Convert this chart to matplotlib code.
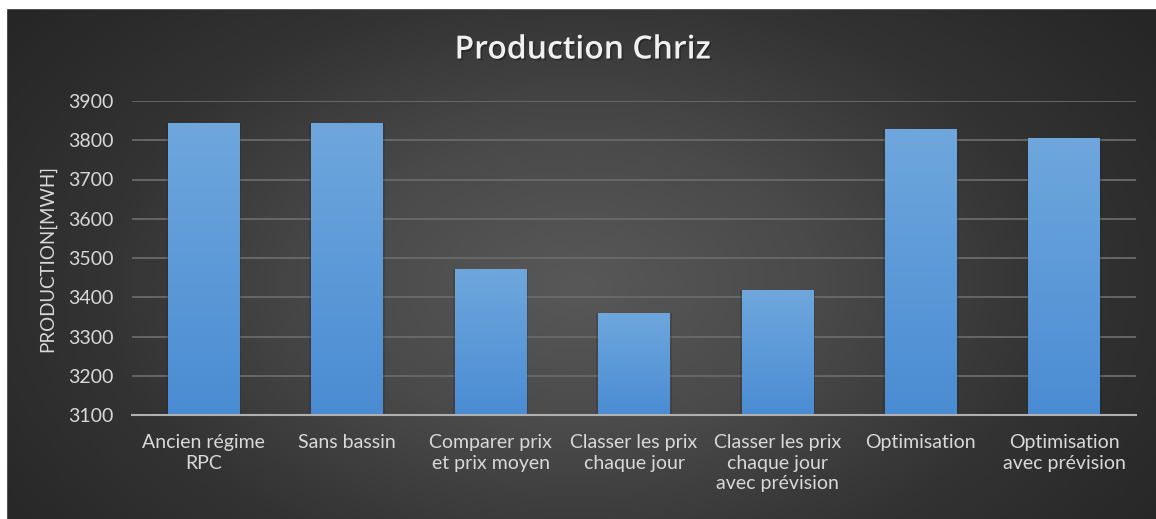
import numpy as np
import matplotlib
matplotlib.use('Agg')
import matplotlib.pyplot as plt
import matplotlib.patheffects as pe
from matplotlib.colors import LinearSegmentedColormap
from matplotlib.patches import Rectangle

categories = ['Ancien régime\nRPC', 'Sans bassin', 'Comparer prix\net prix moyen',
              'Classer les prix\nchaque jour', 'Classer les prix\nchaque jour\navec prévision',
              'Optimisation', 'Optimisation\navec prévision']
production = [3845, 3845, 3471, 3361, 3418, 3828, 3806]
yticks = [3100, 3200, 3300, 3400, 3500, 3600, 3700, 3800, 3900]

plt.rcParams['font.family'] = ['Lato', 'DejaVu Sans']

fig = plt.figure(figsize=(11.56, 5.19), dpi=100, facecolor='#262626')

# dark radial background
bg = fig.add_axes([0, 0, 1, 1])
bg.set_axis_off()
yy, xx = np.mgrid[0:1:300j, 0:1:600j]
dist = np.sqrt(((xx - 0.5) / 0.62) ** 2 + ((yy - 0.45) / 0.85) ** 2)
bgcmap = LinearSegmentedColormap.from_list('bg', ['#585858', '#4a4a4a', '#333333', '#262626'])
bg.imshow(np.clip(dist, 0, 1), cmap=bgcmap, vmin=0, vmax=1, aspect='auto',
          extent=[0, 1, 0, 1], origin='lower')
bg.set_xlim(0, 1)
bg.set_ylim(0, 1)
# white strip at top and left like the screenshot
bg.add_patch(Rectangle((0, 1 - 8 / 519), 1, 8 / 519, color='white', zorder=5))
bg.add_patch(Rectangle((0, 0), 6 / 1156, 1, color='white', zorder=5))

ax = fig.add_axes([132 / 1156, 1 - 415 / 519, (1136 - 132) / 1156, (415 - 101) / 519])
ax.patch.set_visible(False)

x = np.arange(len(categories))
bars = ax.bar(x, production, width=0.5, color='none', edgecolor='none', zorder=3)

barcmap = LinearSegmentedColormap.from_list('bar', ['#4a8cd3', '#6fa7dd'])
grad = np.linspace(0, 1, 256).reshape(-1, 1)
for b in bars:
    bx, bw, bh = b.get_x(), b.get_width(), b.get_height()
    # soft shadow
    ax.bar(bx + bw / 2, bh - 3100, width=bw + 0.025, bottom=3100, color='#1e1e1e',
           alpha=0.2, edgecolor='none', zorder=2)
    im = ax.imshow(grad, cmap=barcmap, aspect='auto', origin='lower',
                   extent=[bx, bx + bw, 3100, bh], zorder=3)
    im.set_clip_path(b)

ax.set_xlim(-0.5, len(categories) - 0.5)
ax.set_ylim(3100, 3900)
ax.set_yticks(yticks)
ax.set_xticks(x)
ax.set_xticklabels(categories, linespacing=1.25)

ax.yaxis.grid(True, color='#6a6a6a', linewidth=1.3, zorder=1)
ax.set_axisbelow(True)
for s in ['left', 'right', 'top']:
    ax.spines[s].set_visible(False)
ax.spines['bottom'].set_color('#b0b0b0')
ax.spines['bottom'].set_linewidth(1.5)
ax.spines['bottom'].set_zorder(4)

ax.tick_params(axis='both', length=0, labelsize=14, colors='#d9d9d9')
ax.tick_params(axis='y', pad=13)
ax.tick_params(axis='x', pad=14)

ax.set_ylabel('PRODUCTION[MWH]', fontsize=13.5, color='#d9d9d9', labelpad=9)

fig.text(583 / 1156, 1 - 50 / 519, 'Production Chriz', ha='center', va='center',
         fontsize=23, fontweight='semibold', color='#f0f0f0', family=['Open Sans', 'DejaVu Sans'],
         path_effects=[pe.withSimplePatchShadow(offset=(1.2, -1.2), shadow_rgbFace='black', alpha=0.3)])

fig.savefig('out.png', dpi=100, facecolor=fig.get_facecolor())
